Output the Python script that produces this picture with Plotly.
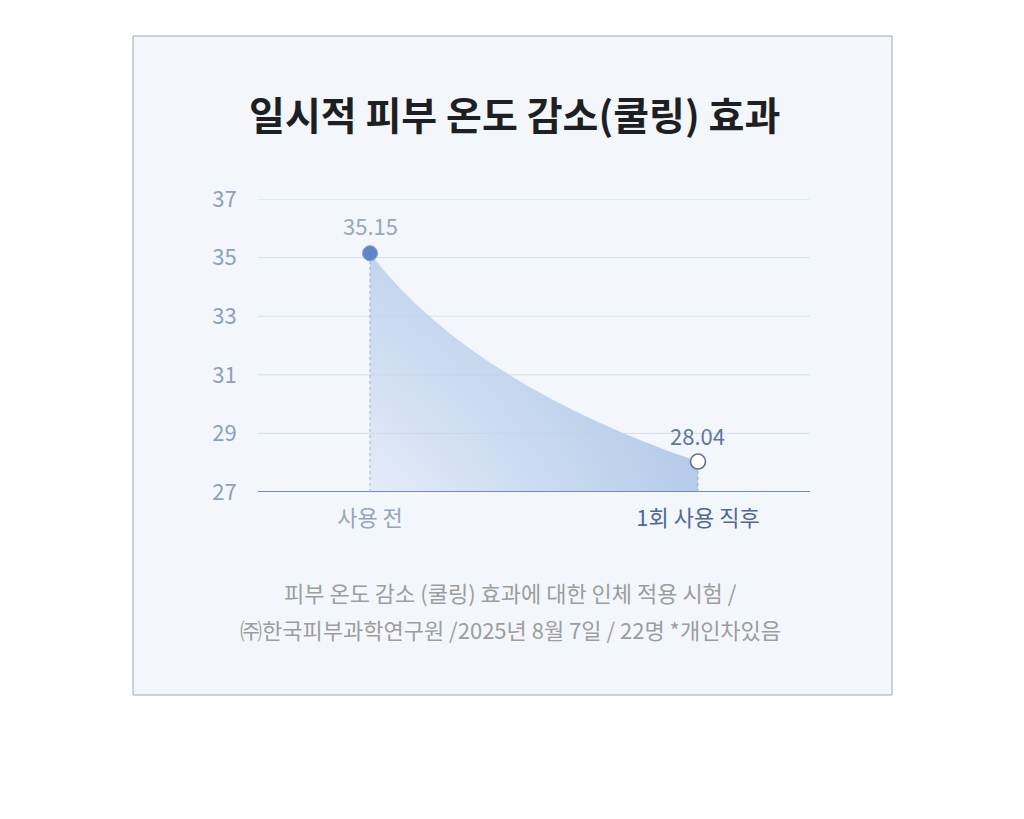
import plotly.graph_objects as go

# ---- data ----
categories = ["사용 전", "1회 사용 직후"]
temps = [35.15, 28.04]
value_labels = ["35.15", "28.04"]
y_ticks = [27, 29, 31, 33, 35, 37]
title_text = "일시적 피부 온도 감소(쿨링) 효과"
footer_lines = [
    "피부 온도 감소 (쿨링) 효과에 대한 인체 적용 시험 /",
    "㈜한국피부과학연구원 /2025년 8월 7일 / 22명 *개인차있음",
]

FONT = "Noto Sans CJK KR"
CARD = "#f3f7fc"
xs = list(range(len(categories)))
y_base = y_ticks[0]

fig = go.Figure()

# gradient-filled area under the values (clipped to the curve by a mask shape)
rect_x = [xs[0], xs[-1], xs[-1], xs[0], xs[0]]
rect_y = [y_base, y_base, temps[0], temps[0], y_base]
fig.add_trace(go.Scatter(
    x=rect_x, y=rect_y, mode="none", fill="toself", hoverinfo="skip",
    fillgradient=dict(type="vertical",
                      colorscale=[[0, "#e4ecf8"], [1, "#c2d4ed"]]),
    showlegend=False))
fig.add_trace(go.Scatter(
    x=rect_x, y=rect_y, mode="none", fill="toself", hoverinfo="skip",
    fillgradient=dict(type="horizontal",
                      colorscale=[[0, "rgba(168,194,230,0)"],
                                  [1, "rgba(168,194,230,0.78)"]]),
    showlegend=False))

shapes = []
# card
shapes.append(dict(type="rect", xref="paper", yref="paper",
                   x0=-0.2264, x1=1.1486, y0=-0.6928, y1=1.5563,
                   fillcolor=CARD, line=dict(color="#9fa8b0", width=1),
                   layer="below"))

# mask above the curve (quadratic Bezier between the two values)
x0, x1 = xs[0], xs[-1]
y0, y1 = temps[0], temps[-1]
cx = x0 + 0.30 * (x1 - x0)
cy = y1 + 0.38 * (y0 - y1)
ex = 0.006 * (x1 - x0)
ey = 0.06
path = (f"M {x0},{y0} Q {cx},{cy} {x1},{y1} "
        f"L {x1 + ex},{y1} L {x1 + ex},{y0 + ey} L {x0 - ex},{y0 + ey} "
        f"L {x0 - ex},{y0} Z")
shapes.append(dict(type="path", xref="x", yref="y", path=path,
                   fillcolor=CARD, line=dict(width=0), layer="above"))

# gridlines
for t in y_ticks[1:]:
    shapes.append(dict(type="line", xref="paper", yref="y",
                       x0=0, x1=1, y0=t, y1=t,
                       line=dict(color="rgba(196,208,226,0.6)", width=1),
                       layer="above"))
# baseline
shapes.append(dict(type="line", xref="paper", yref="y", x0=0, x1=1,
                   y0=y_base, y1=y_base,
                   line=dict(color="#6f8dba", width=2), layer="above"))
# dotted drop lines
for xv, yv in zip(xs, temps):
    shapes.append(dict(type="line", xref="x", yref="y", x0=xv, x1=xv,
                       y0=y_base, y1=yv,
                       line=dict(color="#9eaec3", width=1, dash="dot"),
                       layer="above"))
# point markers
marker_styles = [
    dict(fillcolor="#5d86c6", line=dict(color="#7f9fd2", width=1)),
    dict(fillcolor="#ffffff", line=dict(color="#5f7191", width=1.6)),
]
for xv, yv, st in zip(xs, temps, marker_styles):
    shapes.append(dict(type="circle", xref="x", yref="y",
                       xsizemode="pixel", ysizemode="pixel",
                       xanchor=xv, yanchor=yv,
                       x0=-7.5, x1=7.5, y0=-7.5, y1=7.5,
                       layer="above", **st))

annotations = []
label_colors = ["#97a7bd", "#5f76a3"]
label_shift = [28, 27]
for xv, yv, lab, col, sh in zip(xs, temps, value_labels, label_colors, label_shift):
    annotations.append(dict(x=xv, y=yv, xref="x", yref="y", text=lab,
                            showarrow=False, yshift=sh, yanchor="middle",
                            font=dict(family=FONT, size=22, color=col)))
annotations.append(dict(x=0.4647, y=1.2935, xref="paper", yref="paper",
                        text=f"<b>{title_text}</b>", showarrow=False,
                        yanchor="middle", xanchor="center",
                        font=dict(family=FONT, size=39, color="#1e1f22")))
footer_y = [-0.3413, -0.4676]
for line, fy in zip(footer_lines, footer_y):
    annotations.append(dict(x=0.4574, y=fy, xref="paper", yref="paper",
                            text=line, showarrow=False,
                            yanchor="middle", xanchor="center",
                            font=dict(family=FONT, size=22, color="#9d9d9d")))

xtick_colors = ["#95a5bd", "#4f6796"]
ticktext = [f'<span style="color:{c}">{t}</span>'
            for t, c in zip(categories, xtick_colors)]

fig.update_layout(
    width=1024, height=819,
    margin=dict(l=258, r=214, t=199, b=327, pad=0),
    paper_bgcolor="#ffffff",
    plot_bgcolor="rgba(0,0,0,0)",
    showlegend=False,
    shapes=shapes,
    annotations=annotations,
    xaxis=dict(range=[-0.3415, 1.3415], tickvals=xs, ticktext=ticktext,
               showgrid=False, zeroline=False, showline=False,
               ticks="outside", ticklen=7, tickcolor="rgba(0,0,0,0)",
               tickfont=dict(family=FONT, size=22, color="#95a5bd"),
               fixedrange=True),
    yaxis=dict(range=[y_ticks[0], y_ticks[-1]], tickvals=y_ticks,
               showgrid=False, zeroline=False, showline=False,
               ticks="outside", ticklen=16, tickcolor="rgba(0,0,0,0)",
               tickfont=dict(family=FONT, size=22, color="#8ca0bf"),
               fixedrange=True),
)

fig.write_html("out.html")
